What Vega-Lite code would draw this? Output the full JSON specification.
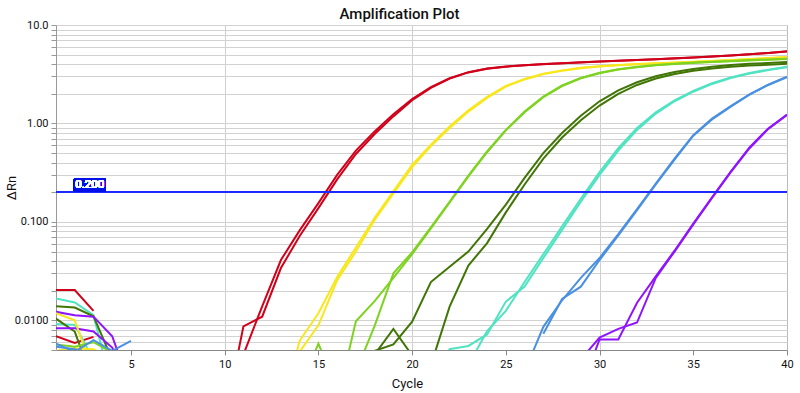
{
  "$schema": "https://vega.github.io/schema/vega-lite/v6.json",
  "width": 731,
  "height": 325,
  "autosize": {"type": "none"},
  "padding": {"left": 56, "top": 25, "right": 13, "bottom": 43},
  "background": "white",
  "title": {"text": "Amplification Plot", "fontSize": 15, "fontWeight": 500, "font": "Roboto", "color": "#111111", "offset": -3, "dx": -22},
  "config": {"font": "Roboto", "view": {"stroke": "#bbbbbb"}},
  "data": {"values": [
    {"s":"nR1","g":"red","c":1,"v":0.0203},{"s":"nR1","g":"red","c":2,"v":0.0203},{"s":"nR1","g":"red","c":3,"v":0.0125},
    {"s":"nR2","g":"red","c":1,"v":0.0069},{"s":"nR2","g":"red","c":2,"v":0.0059},{"s":"nR2","g":"red","c":3,"v":0.0068},
    {"s":"nT1","g":"turq","c":1,"v":0.0167},{"s":"nT1","g":"turq","c":2,"v":0.0152},{"s":"nT1","g":"turq","c":3,"v":0.0113},{"s":"nT1","g":"turq","c":4,"v":0.002},
    {"s":"nT2","g":"turq","c":1,"v":0.0092},{"s":"nT2","g":"turq","c":2,"v":0.009},{"s":"nT2","g":"turq","c":3,"v":0.004},
    {"s":"nD1","g":"dkgreen","c":1,"v":0.0139},{"s":"nD1","g":"dkgreen","c":2,"v":0.0135},{"s":"nD1","g":"dkgreen","c":3,"v":0.011},{"s":"nD1","g":"dkgreen","c":4,"v":0.004},
    {"s":"nD2","g":"dkgreen","c":1,"v":0.0104},{"s":"nD2","g":"dkgreen","c":2,"v":0.0077},{"s":"nD2","g":"dkgreen","c":3,"v":0.0023},
    {"s":"nP1","g":"purple","c":1,"v":0.0122},{"s":"nP1","g":"purple","c":2,"v":0.0113},{"s":"nP1","g":"purple","c":3,"v":0.0109},{"s":"nP1","g":"purple","c":4,"v":0.0069},{"s":"nP1","g":"purple","c":5,"v":0.002},
    {"s":"nP2","g":"purple","c":1,"v":0.0083},{"s":"nP2","g":"purple","c":2,"v":0.0083},{"s":"nP2","g":"purple","c":3,"v":0.0077},{"s":"nP2","g":"purple","c":4,"v":0.0053},{"s":"nP2","g":"purple","c":5,"v":0.002},
    {"s":"nY1","g":"yellow","c":1,"v":0.0118},{"s":"nY1","g":"yellow","c":2,"v":0.01},{"s":"nY1","g":"yellow","c":3,"v":0.0029},
    {"s":"nY2","g":"yellow","c":1,"v":0.0049},{"s":"nY2","g":"yellow","c":2,"v":0.0052},{"s":"nY2","g":"yellow","c":3,"v":0.0051},{"s":"nY2","g":"yellow","c":4,"v":0.004},
    {"s":"nG1","g":"ltgreen","c":1,"v":0.0057},{"s":"nG1","g":"ltgreen","c":2,"v":0.0054},{"s":"nG1","g":"ltgreen","c":3,"v":0.006},{"s":"nG1","g":"ltgreen","c":4,"v":0.0047},
    {"s":"nB1","g":"blue","c":1,"v":0.0058},{"s":"nB1","g":"blue","c":2,"v":0.0048},{"s":"nB1","g":"blue","c":3,"v":0.0063},{"s":"nB1","g":"blue","c":4,"v":0.0049},{"s":"nB1","g":"blue","c":5,"v":0.0062},
    {"s":"nB2","g":"blue","c":1,"v":0.0054},{"s":"nB2","g":"blue","c":2,"v":0.0051},{"s":"nB2","g":"blue","c":3,"v":0.0045},

    {"s":"rA","g":"red","c":10,"v":0.001},{"s":"rA","g":"red","c":11,"v":0.0087},{"s":"rA","g":"red","c":12,"v":0.0109},{"s":"rA","g":"red","c":13,"v":0.034},{"s":"rA","g":"red","c":14,"v":0.072},{"s":"rA","g":"red","c":15,"v":0.138},{"s":"rA","g":"red","c":16,"v":0.27},{"s":"rA","g":"red","c":17,"v":0.49},{"s":"rA","g":"red","c":18,"v":0.78},{"s":"rA","g":"red","c":19,"v":1.18},{"s":"rA","g":"red","c":20,"v":1.72},{"s":"rA","g":"red","c":21,"v":2.3},{"s":"rA","g":"red","c":22,"v":2.85},{"s":"rA","g":"red","c":23,"v":3.3},{"s":"rA","g":"red","c":24,"v":3.6},{"s":"rA","g":"red","c":25,"v":3.77},{"s":"rA","g":"red","c":26,"v":3.9},{"s":"rA","g":"red","c":27,"v":4.0},{"s":"rA","g":"red","c":28,"v":4.08},{"s":"rA","g":"red","c":29,"v":4.17},{"s":"rA","g":"red","c":30,"v":4.26},{"s":"rA","g":"red","c":31,"v":4.33},{"s":"rA","g":"red","c":32,"v":4.41},{"s":"rA","g":"red","c":33,"v":4.49},{"s":"rA","g":"red","c":34,"v":4.58},{"s":"rA","g":"red","c":35,"v":4.67},{"s":"rA","g":"red","c":36,"v":4.78},{"s":"rA","g":"red","c":37,"v":4.9},{"s":"rA","g":"red","c":38,"v":5.04},{"s":"rA","g":"red","c":39,"v":5.2},{"s":"rA","g":"red","c":40,"v":5.38},
    {"s":"rB","g":"red","c":11,"v":0.0045},{"s":"rB","g":"red","c":12,"v":0.0139},{"s":"rB","g":"red","c":13,"v":0.041},{"s":"rB","g":"red","c":14,"v":0.082},{"s":"rB","g":"red","c":15,"v":0.155},{"s":"rB","g":"red","c":16,"v":0.3},{"s":"rB","g":"red","c":17,"v":0.53},{"s":"rB","g":"red","c":18,"v":0.83},{"s":"rB","g":"red","c":19,"v":1.24},{"s":"rB","g":"red","c":20,"v":1.77},{"s":"rB","g":"red","c":21,"v":2.34},{"s":"rB","g":"red","c":22,"v":2.88},{"s":"rB","g":"red","c":23,"v":3.32},{"s":"rB","g":"red","c":24,"v":3.62},{"s":"rB","g":"red","c":25,"v":3.79},{"s":"rB","g":"red","c":26,"v":3.91},{"s":"rB","g":"red","c":27,"v":4.01},{"s":"rB","g":"red","c":28,"v":4.09},{"s":"rB","g":"red","c":29,"v":4.18},{"s":"rB","g":"red","c":30,"v":4.27},{"s":"rB","g":"red","c":31,"v":4.34},{"s":"rB","g":"red","c":32,"v":4.42},{"s":"rB","g":"red","c":33,"v":4.5},{"s":"rB","g":"red","c":34,"v":4.59},{"s":"rB","g":"red","c":35,"v":4.68},{"s":"rB","g":"red","c":36,"v":4.79},{"s":"rB","g":"red","c":37,"v":4.91},{"s":"rB","g":"red","c":38,"v":5.05},{"s":"rB","g":"red","c":39,"v":5.21},{"s":"rB","g":"red","c":40,"v":5.4},

    {"s":"yA","g":"yellow","c":13,"v":0.001},{"s":"yA","g":"yellow","c":14,"v":0.0048},{"s":"yA","g":"yellow","c":15,"v":0.0089},{"s":"yA","g":"yellow","c":16,"v":0.0256},{"s":"yA","g":"yellow","c":17,"v":0.05},{"s":"yA","g":"yellow","c":18,"v":0.105},{"s":"yA","g":"yellow","c":19,"v":0.195},{"s":"yA","g":"yellow","c":20,"v":0.36},{"s":"yA","g":"yellow","c":21,"v":0.59},{"s":"yA","g":"yellow","c":22,"v":0.9},{"s":"yA","g":"yellow","c":23,"v":1.32},{"s":"yA","g":"yellow","c":24,"v":1.82},{"s":"yA","g":"yellow","c":25,"v":2.37},{"s":"yA","g":"yellow","c":26,"v":2.8},{"s":"yA","g":"yellow","c":27,"v":3.17},{"s":"yA","g":"yellow","c":28,"v":3.43},{"s":"yA","g":"yellow","c":29,"v":3.64},{"s":"yA","g":"yellow","c":30,"v":3.79},{"s":"yA","g":"yellow","c":31,"v":3.91},{"s":"yA","g":"yellow","c":32,"v":3.99},{"s":"yA","g":"yellow","c":33,"v":4.07},{"s":"yA","g":"yellow","c":34,"v":4.14},{"s":"yA","g":"yellow","c":35,"v":4.22},{"s":"yA","g":"yellow","c":36,"v":4.3},{"s":"yA","g":"yellow","c":37,"v":4.39},{"s":"yA","g":"yellow","c":38,"v":4.49},{"s":"yA","g":"yellow","c":39,"v":4.6},{"s":"yA","g":"yellow","c":40,"v":4.7},
    {"s":"yB","g":"yellow","c":13,"v":0.0012},{"s":"yB","g":"yellow","c":14,"v":0.0062},{"s":"yB","g":"yellow","c":15,"v":0.0118},{"s":"yB","g":"yellow","c":16,"v":0.0275},{"s":"yB","g":"yellow","c":17,"v":0.055},{"s":"yB","g":"yellow","c":18,"v":0.11},{"s":"yB","g":"yellow","c":19,"v":0.205},{"s":"yB","g":"yellow","c":20,"v":0.38},{"s":"yB","g":"yellow","c":21,"v":0.61},{"s":"yB","g":"yellow","c":22,"v":0.93},{"s":"yB","g":"yellow","c":23,"v":1.36},{"s":"yB","g":"yellow","c":24,"v":1.86},{"s":"yB","g":"yellow","c":25,"v":2.41},{"s":"yB","g":"yellow","c":26,"v":2.83},{"s":"yB","g":"yellow","c":27,"v":3.2},{"s":"yB","g":"yellow","c":28,"v":3.46},{"s":"yB","g":"yellow","c":29,"v":3.67},{"s":"yB","g":"yellow","c":30,"v":3.81},{"s":"yB","g":"yellow","c":31,"v":3.93},{"s":"yB","g":"yellow","c":32,"v":4.01},{"s":"yB","g":"yellow","c":33,"v":4.09},{"s":"yB","g":"yellow","c":34,"v":4.16},{"s":"yB","g":"yellow","c":35,"v":4.24},{"s":"yB","g":"yellow","c":36,"v":4.32},{"s":"yB","g":"yellow","c":37,"v":4.41},{"s":"yB","g":"yellow","c":38,"v":4.51},{"s":"yB","g":"yellow","c":39,"v":4.62},{"s":"yB","g":"yellow","c":40,"v":4.73},

    {"s":"gA","g":"ltgreen","c":16,"v":0.0015},{"s":"gA","g":"ltgreen","c":17,"v":0.0098},{"s":"gA","g":"ltgreen","c":18,"v":0.0157},{"s":"gA","g":"ltgreen","c":19,"v":0.027},{"s":"gA","g":"ltgreen","c":20,"v":0.047},{"s":"gA","g":"ltgreen","c":21,"v":0.086},{"s":"gA","g":"ltgreen","c":22,"v":0.158},{"s":"gA","g":"ltgreen","c":23,"v":0.29},{"s":"gA","g":"ltgreen","c":24,"v":0.51},{"s":"gA","g":"ltgreen","c":25,"v":0.85},{"s":"gA","g":"ltgreen","c":26,"v":1.3},{"s":"gA","g":"ltgreen","c":27,"v":1.85},{"s":"gA","g":"ltgreen","c":28,"v":2.4},{"s":"gA","g":"ltgreen","c":29,"v":2.88},{"s":"gA","g":"ltgreen","c":30,"v":3.24},{"s":"gA","g":"ltgreen","c":31,"v":3.53},{"s":"gA","g":"ltgreen","c":32,"v":3.73},{"s":"gA","g":"ltgreen","c":33,"v":3.89},{"s":"gA","g":"ltgreen","c":34,"v":4.02},{"s":"gA","g":"ltgreen","c":35,"v":4.12},{"s":"gA","g":"ltgreen","c":36,"v":4.21},{"s":"gA","g":"ltgreen","c":37,"v":4.29},{"s":"gA","g":"ltgreen","c":38,"v":4.37},{"s":"gA","g":"ltgreen","c":39,"v":4.44},{"s":"gA","g":"ltgreen","c":40,"v":4.51},
    {"s":"gB","g":"ltgreen","c":14,"v":0.002},{"s":"gB","g":"ltgreen","c":15,"v":0.0058},{"s":"gB","g":"ltgreen","c":16,"v":0.002},{"s":"gB","g":"ltgreen","c":17,"v":0.003},{"s":"gB","g":"ltgreen","c":18,"v":0.0088},{"s":"gB","g":"ltgreen","c":19,"v":0.03},{"s":"gB","g":"ltgreen","c":20,"v":0.049},{"s":"gB","g":"ltgreen","c":21,"v":0.088},{"s":"gB","g":"ltgreen","c":22,"v":0.16},{"s":"gB","g":"ltgreen","c":23,"v":0.295},{"s":"gB","g":"ltgreen","c":24,"v":0.52},{"s":"gB","g":"ltgreen","c":25,"v":0.86},{"s":"gB","g":"ltgreen","c":26,"v":1.32},{"s":"gB","g":"ltgreen","c":27,"v":1.87},{"s":"gB","g":"ltgreen","c":28,"v":2.43},{"s":"gB","g":"ltgreen","c":29,"v":2.9},{"s":"gB","g":"ltgreen","c":30,"v":3.27},{"s":"gB","g":"ltgreen","c":31,"v":3.56},{"s":"gB","g":"ltgreen","c":32,"v":3.76},{"s":"gB","g":"ltgreen","c":33,"v":3.92},{"s":"gB","g":"ltgreen","c":34,"v":4.05},{"s":"gB","g":"ltgreen","c":35,"v":4.15},{"s":"gB","g":"ltgreen","c":36,"v":4.24},{"s":"gB","g":"ltgreen","c":37,"v":4.32},{"s":"gB","g":"ltgreen","c":38,"v":4.4},{"s":"gB","g":"ltgreen","c":39,"v":4.47},{"s":"gB","g":"ltgreen","c":40,"v":4.55},

    {"s":"dA","g":"dkgreen","c":17,"v":0.001},{"s":"dA","g":"dkgreen","c":18,"v":0.0049},{"s":"dA","g":"dkgreen","c":19,"v":0.0057},{"s":"dA","g":"dkgreen","c":20,"v":0.0097},{"s":"dA","g":"dkgreen","c":21,"v":0.0245},{"s":"dA","g":"dkgreen","c":22,"v":0.035},{"s":"dA","g":"dkgreen","c":23,"v":0.05},{"s":"dA","g":"dkgreen","c":24,"v":0.085},{"s":"dA","g":"dkgreen","c":25,"v":0.15},{"s":"dA","g":"dkgreen","c":26,"v":0.28},{"s":"dA","g":"dkgreen","c":27,"v":0.5},{"s":"dA","g":"dkgreen","c":28,"v":0.8},{"s":"dA","g":"dkgreen","c":29,"v":1.2},{"s":"dA","g":"dkgreen","c":30,"v":1.68},{"s":"dA","g":"dkgreen","c":31,"v":2.17},{"s":"dA","g":"dkgreen","c":32,"v":2.62},{"s":"dA","g":"dkgreen","c":33,"v":3.02},{"s":"dA","g":"dkgreen","c":34,"v":3.33},{"s":"dA","g":"dkgreen","c":35,"v":3.58},{"s":"dA","g":"dkgreen","c":36,"v":3.77},{"s":"dA","g":"dkgreen","c":37,"v":3.92},{"s":"dA","g":"dkgreen","c":38,"v":4.03},{"s":"dA","g":"dkgreen","c":39,"v":4.12},{"s":"dA","g":"dkgreen","c":40,"v":4.2},
    {"s":"dB","g":"dkgreen","c":18,"v":0.0045},{"s":"dB","g":"dkgreen","c":19,"v":0.0082},{"s":"dB","g":"dkgreen","c":20,"v":0.0044},{"s":"dB","g":"dkgreen","c":21,"v":0.0035},{"s":"dB","g":"dkgreen","c":22,"v":0.0138},{"s":"dB","g":"dkgreen","c":23,"v":0.036},{"s":"dB","g":"dkgreen","c":24,"v":0.061},{"s":"dB","g":"dkgreen","c":25,"v":0.125},{"s":"dB","g":"dkgreen","c":26,"v":0.24},{"s":"dB","g":"dkgreen","c":27,"v":0.44},{"s":"dB","g":"dkgreen","c":28,"v":0.72},{"s":"dB","g":"dkgreen","c":29,"v":1.08},{"s":"dB","g":"dkgreen","c":30,"v":1.52},{"s":"dB","g":"dkgreen","c":31,"v":2.0},{"s":"dB","g":"dkgreen","c":32,"v":2.46},{"s":"dB","g":"dkgreen","c":33,"v":2.86},{"s":"dB","g":"dkgreen","c":34,"v":3.18},{"s":"dB","g":"dkgreen","c":35,"v":3.43},{"s":"dB","g":"dkgreen","c":36,"v":3.62},{"s":"dB","g":"dkgreen","c":37,"v":3.76},{"s":"dB","g":"dkgreen","c":38,"v":3.87},{"s":"dB","g":"dkgreen","c":39,"v":3.95},{"s":"dB","g":"dkgreen","c":40,"v":4.03},

    {"s":"tA","g":"turq","c":21,"v":0.002},{"s":"tA","g":"turq","c":22,"v":0.0051},{"s":"tA","g":"turq","c":23,"v":0.0055},{"s":"tA","g":"turq","c":24,"v":0.0072},{"s":"tA","g":"turq","c":25,"v":0.0155},{"s":"tA","g":"turq","c":26,"v":0.022},{"s":"tA","g":"turq","c":27,"v":0.043},{"s":"tA","g":"turq","c":28,"v":0.083},{"s":"tA","g":"turq","c":29,"v":0.16},{"s":"tA","g":"turq","c":30,"v":0.3},{"s":"tA","g":"turq","c":31,"v":0.53},{"s":"tA","g":"turq","c":32,"v":0.86},{"s":"tA","g":"turq","c":33,"v":1.26},{"s":"tA","g":"turq","c":34,"v":1.68},{"s":"tA","g":"turq","c":35,"v":2.1},{"s":"tA","g":"turq","c":36,"v":2.52},{"s":"tA","g":"turq","c":37,"v":2.9},{"s":"tA","g":"turq","c":38,"v":3.22},{"s":"tA","g":"turq","c":39,"v":3.48},{"s":"tA","g":"turq","c":40,"v":3.72},
    {"s":"tB","g":"turq","c":22,"v":0.002},{"s":"tB","g":"turq","c":23,"v":0.0035},{"s":"tB","g":"turq","c":24,"v":0.0078},{"s":"tB","g":"turq","c":25,"v":0.0125},{"s":"tB","g":"turq","c":26,"v":0.0245},{"s":"tB","g":"turq","c":27,"v":0.047},{"s":"tB","g":"turq","c":28,"v":0.09},{"s":"tB","g":"turq","c":29,"v":0.172},{"s":"tB","g":"turq","c":30,"v":0.32},{"s":"tB","g":"turq","c":31,"v":0.56},{"s":"tB","g":"turq","c":32,"v":0.9},{"s":"tB","g":"turq","c":33,"v":1.3},{"s":"tB","g":"turq","c":34,"v":1.72},{"s":"tB","g":"turq","c":35,"v":2.14},{"s":"tB","g":"turq","c":36,"v":2.56},{"s":"tB","g":"turq","c":37,"v":2.94},{"s":"tB","g":"turq","c":38,"v":3.26},{"s":"tB","g":"turq","c":39,"v":3.52},{"s":"tB","g":"turq","c":40,"v":3.76},

    {"s":"bA","g":"blue","c":25,"v":0.001},{"s":"bA","g":"blue","c":26,"v":0.003},{"s":"bA","g":"blue","c":27,"v":0.0086},{"s":"bA","g":"blue","c":28,"v":0.016},{"s":"bA","g":"blue","c":29,"v":0.027},{"s":"bA","g":"blue","c":30,"v":0.043},{"s":"bA","g":"blue","c":31,"v":0.075},{"s":"bA","g":"blue","c":32,"v":0.135},{"s":"bA","g":"blue","c":33,"v":0.245},{"s":"bA","g":"blue","c":34,"v":0.44},{"s":"bA","g":"blue","c":35,"v":0.76},{"s":"bA","g":"blue","c":36,"v":1.12},{"s":"bA","g":"blue","c":37,"v":1.5},{"s":"bA","g":"blue","c":38,"v":1.98},{"s":"bA","g":"blue","c":39,"v":2.48},{"s":"bA","g":"blue","c":40,"v":2.98},
    {"s":"bB","g":"blue","c":27,"v":0.0073},{"s":"bB","g":"blue","c":28,"v":0.0165},{"s":"bB","g":"blue","c":29,"v":0.022},{"s":"bB","g":"blue","c":30,"v":0.041},{"s":"bB","g":"blue","c":31,"v":0.073},{"s":"bB","g":"blue","c":32,"v":0.132},{"s":"bB","g":"blue","c":33,"v":0.24},{"s":"bB","g":"blue","c":34,"v":0.43},{"s":"bB","g":"blue","c":35,"v":0.75},{"s":"bB","g":"blue","c":36,"v":1.1},{"s":"bB","g":"blue","c":37,"v":1.48},{"s":"bB","g":"blue","c":38,"v":1.96},{"s":"bB","g":"blue","c":39,"v":2.46},{"s":"bB","g":"blue","c":40,"v":2.96},

    {"s":"pA","g":"purple","c":28,"v":0.001},{"s":"pA","g":"purple","c":29,"v":0.004},{"s":"pA","g":"purple","c":30,"v":0.0067},{"s":"pA","g":"purple","c":31,"v":0.0082},{"s":"pA","g":"purple","c":32,"v":0.0095},{"s":"pA","g":"purple","c":33,"v":0.027},{"s":"pA","g":"purple","c":34,"v":0.05},{"s":"pA","g":"purple","c":35,"v":0.094},{"s":"pA","g":"purple","c":36,"v":0.175},{"s":"pA","g":"purple","c":37,"v":0.32},{"s":"pA","g":"purple","c":38,"v":0.56},{"s":"pA","g":"purple","c":39,"v":0.88},{"s":"pA","g":"purple","c":40,"v":1.22},
    {"s":"pB","g":"purple","c":29,"v":0.002},{"s":"pB","g":"purple","c":30,"v":0.0064},{"s":"pB","g":"purple","c":31,"v":0.0064},{"s":"pB","g":"purple","c":32,"v":0.0151},{"s":"pB","g":"purple","c":33,"v":0.028},{"s":"pB","g":"purple","c":34,"v":0.051},{"s":"pB","g":"purple","c":35,"v":0.096},{"s":"pB","g":"purple","c":36,"v":0.178},{"s":"pB","g":"purple","c":37,"v":0.325},{"s":"pB","g":"purple","c":38,"v":0.57},{"s":"pB","g":"purple","c":39,"v":0.89},{"s":"pB","g":"purple","c":40,"v":1.23}
  ]},
  "layer": [
    {
      "mark": {"type": "line", "strokeWidth": 2, "clip": true, "interpolate": "linear"},
      "encoding": {
        "x": {"field": "c", "type": "quantitative",
              "scale": {"domain": [1, 40], "nice": false, "zero": false},
              "axis": {"title": "Cycle", "values": [5, 10, 15, 20, 25, 30, 35, 40],
                       "grid": true,
                       "gridColor": {"condition": {"test": "datum.value === 10 || datum.value === 20 || datum.value === 30", "value": "#cfcfcf"}, "value": "transparent"},
                       "gridWidth": 1,
                       "domainColor": "#888888", "tickColor": "#888888", "tickSize": 5,
                       "labelFontSize": 11, "labelColor": "#111111", "labelPadding": 3, "labelFlush": false,
                       "titleFontSize": 13, "titleFontWeight": "normal", "titleColor": "#111111",
                       "titleX": 351, "titleY": 37, "titleBaseline": "alphabetic"}},
        "y": {"field": "v", "type": "quantitative",
              "scale": {"type": "log", "domain": [0.005, 10], "nice": false},
              "axis": {"title": "ΔRn",
                       "values": [0.005,0.006,0.007,0.008,0.009,0.01,0.02,0.03,0.04,0.05,0.06,0.07,0.08,0.09,0.1,0.2,0.3,0.4,0.5,0.6,0.7,0.8,0.9,1,2,3,4,5,6,7,8,9,10],
                       "labelExpr": "indexof([0.01,0.1,1,10], datum.value) >= 0 ? format(datum.value, '.3r') : ''",
                       "grid": true, "gridColor": "#d2d2d2", "gridWidth": 1,
                       "domainColor": "#999999", "tickColor": "#999999", "tickSize": 5,
                       "labelFontSize": 11, "labelColor": "#111111", "labelPadding": 3, "labelFlush": false,
                       "titleFontSize": 13, "titleFontWeight": "normal", "titleColor": "#111111",
                       "titleX": -45, "titleBaseline": "middle", "titleAngle": -90}},
        "color": {"field": "g", "type": "nominal", "legend": null,
                  "scale": {"domain": ["red", "yellow", "ltgreen", "dkgreen", "turq", "blue", "purple"],
                            "range": ["#D0021B", "#F8E71C", "#7ED321", "#417505", "#50E3C2", "#4A90E2", "#9013FE"]}},
        "detail": {"field": "s", "type": "nominal"}
      }
    },
    {
      "mark": {"type": "rule", "color": "#1f2bff", "strokeWidth": 1.2},
      "encoding": {"y": {"datum": 0.2}}
    },
    {
      "mark": {"type": "rect", "color": "#0010e8"},
      "encoding": {"x": {"datum": 1.96}, "x2": {"datum": 3.65}, "y": {"datum": 0.2028}, "y2": {"datum": 0.2777}}
    },
    {
      "mark": {"type": "text", "color": "white", "fontSize": 11.5, "baseline": "middle", "align": "center"},
      "encoding": {"x": {"datum": 2.8}, "y": {"datum": 0.2375}, "text": {"value": "0.200"}}
    }
  ]
}
